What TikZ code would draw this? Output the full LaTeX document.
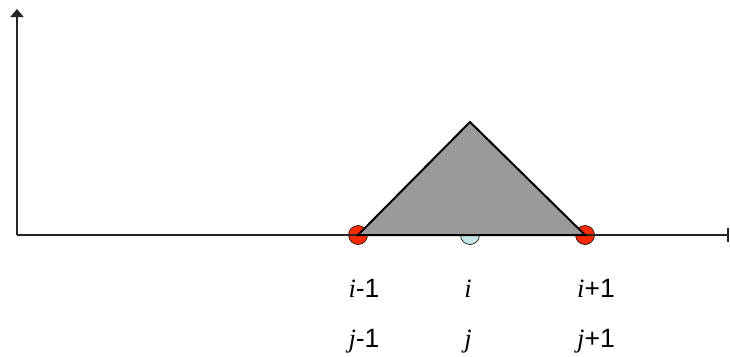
\documentclass[tikz,border=0pt]{standalone}
\usepackage{fontspec}
\setmainfont{Liberation Sans}
\newfontfamily\serifidx{Liberation Serif}
\usetikzlibrary{arrows.meta}
\definecolor{cNodeRed}{HTML}{FF2A00}
\definecolor{cNodeBlue}{HTML}{C6E6EA}
\definecolor{cTri}{HTML}{9A9A9A}
\tikzset{
  axisline/.style={line width=1.6pt, draw=black!85},
  gridpt/.style={circle, draw=black, line width=0.6pt, minimum size=19pt, inner sep=0pt},
  idxlabel/.style={font=\fontsize{26.5}{30}\selectfont, anchor=base},
}
\newcommand{\idx}[1]{{\serifidx\itshape #1}}
\begin{document}
\begin{tikzpicture}[x=1pt, y=-1pt]
  \useasboundingbox (0,0) rectangle (730,356);
  % grid points
  \node[gridpt, fill=cNodeRed] (left) at (358,235) {};
  \node[gridpt, fill=cNodeRed] (right) at (585,235) {};
  \node[gridpt, fill=cNodeBlue] (mid) at (470,235) {};
  % axes
  \coordinate (origin) at (17,235);
  \coordinate (ytop) at (17,9);
  \coordinate (xend) at (729,235);
  \draw[axisline, -{Triangle[length=8pt, width=13pt]}] (origin) -- (ytop);
  \draw[axisline, -{Bar[width=14pt, line width=1.6pt]}] (origin) -- (xend);
  % hat function
  \coordinate (apex) at (470,122);
  \draw[fill=cTri, line width=2pt, line join=miter] (left.center) -- (apex) -- (right.center) -- cycle;
  % labels
  \node[idxlabel] (li1) at (364,297) {\idx{i}-1};
  \node[idxlabel] (li2) at (468,297) {\idx{i}};
  \node[idxlabel] (li3) at (596,297) {\idx{i}+1};
  \node[idxlabel] (lj1) at (364,347) {\idx{j}-1};
  \node[idxlabel] (lj2) at (468,347) {\idx{j}};
  \node[idxlabel] (lj3) at (596,347) {\idx{j}+1};
\end{tikzpicture}
\end{document}
